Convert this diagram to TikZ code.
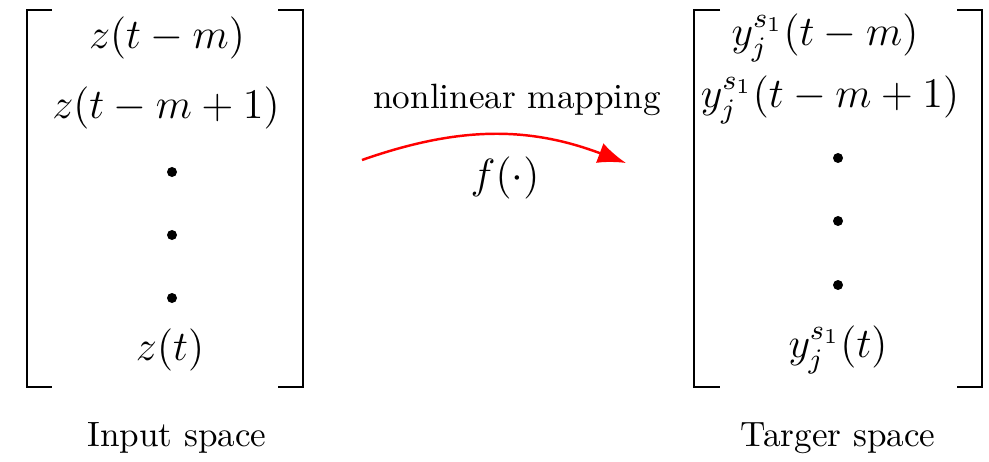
\documentclass[tikz,border=0pt]{standalone}
\usepackage{amsmath}
\usetikzlibrary{arrows.meta,positioning}
\begin{document}
\begin{tikzpicture}[
    x=0.01cm, y=-0.01cm,
    entry/.style={font=\large, inner sep=1pt},
    vdot/.style={circle, fill=black, inner sep=0pt, minimum size=0.1cm},
    bracket/.style={line width=0.6pt},
    spacelbl/.style={font=\normalsize},
    maparrow/.style={-{Latex[length=2.8mm,width=2.1mm]}, red, line width=0.7pt},
]
\useasboundingbox (0,0) rectangle (989,461);
% input vector
\node[entry] (zm) at (167,38) {$z(t-m)$};
\node[entry] (zm1) at (166,108) {$z(t-m+1)$};
\node[vdot] (zd1) at (172,172) {};
\node[vdot] (zd2) at (172,235) {};
\node[vdot] (zd3) at (172,298) {};
\node[entry] (zt) at (170,350) {$z(t)$};
\draw[bracket] (52,10) -- (27,10) -- (27,387) -- (52,387);
\draw[bracket] (278,10) -- (303,10) -- (303,387) -- (278,387);
% target vector
\node[entry] (ym) at (825,38) {$y_j^{s_1}(t-m)$};
\node[entry] (ym1) at (830,100) {$y_j^{s_1}(t-m+1)$};
\node[vdot] (yd1) at (838,158) {};
\node[vdot] (yd2) at (838,221) {};
\node[vdot] (yd3) at (838,285) {};
\node[entry] (yt) at (838,350) {$y_j^{s_1}(t)$};
\draw[bracket] (720,10) -- (694,10) -- (694,387) -- (720,387);
\draw[bracket] (957,10) -- (982,10) -- (982,387) -- (957,387);
% labels
\node[spacelbl] (inlbl) at (177,438) {Input space};
\node[spacelbl] (outlbl) at (838,438) {Targer space};
% mapping
\node[spacelbl] (maplbl) at (517,100) {nonlinear mapping};
\node[entry] (fmap) at (505,178) {$f(\cdot)$};
\coordinate (mapstart) at (362,160);
\coordinate (mapend) at (626,163);
\draw[maparrow] (mapstart) to[bend left=20] (mapend);
\end{tikzpicture}
\end{document}
